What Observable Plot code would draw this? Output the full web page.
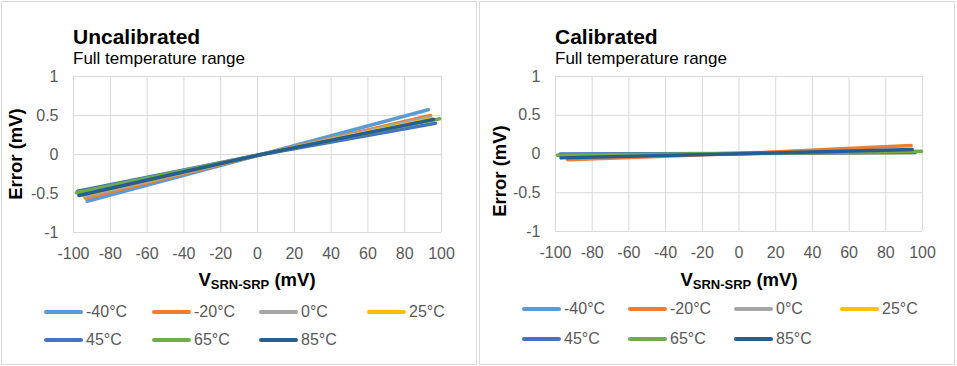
<!DOCTYPE html>
<html>
<head>
<meta charset="utf-8">
<script src="https://cdn.jsdelivr.net/npm/d3@7"></script>
<script src="https://cdn.jsdelivr.net/npm/@observablehq/plot@0.6"></script>
<style>
  html, body { margin: 0; padding: 0; background: #fff; }
  body { width: 957px; height: 366px; position: relative; overflow: hidden;
         font-family: "Liberation Sans", Arial, sans-serif; }
  .abs { position: absolute; }
  .box { position: absolute; border: 1px solid #d9d9d9; box-sizing: border-box; }
  .title { font-weight: bold; font-size: 21px; line-height: 1; color: #000; white-space: nowrap; }
  .sub { font-size: 17px; line-height: 1; color: #000; white-space: nowrap; }
  .ylab { font-weight: bold; font-size: 18.5px; line-height: 1; color: #000; white-space: nowrap;
          transform: translate(-50%, -50%) rotate(-90deg); }
  .xlab { font-weight: bold; font-size: 18.5px; line-height: 1; color: #000; white-space: nowrap;
          transform: translateX(-50%); }
  .xlab .s { font-size: 13px; position: relative; top: 3px; }
  .leg { display: flex; align-items: center; height: 16px; font-size: 16px; line-height: 16px; color: #595959; white-space: nowrap; }
  .sw { width: 39px; height: 3.5px; border-radius: 2px; margin-right: 3px; }
</style>
</head>
<body>
<script>
// ---- Data ----
const temps = ["-40°C", "-20°C", "0°C", "25°C", "45°C", "65°C", "85°C"];
const colors = ["#5B9BD5", "#ED7D31", "#A5A5A5", "#FFC000", "#4472C4", "#70AD47", "#255E91"];

const xTicks = [-100, -80, -60, -40, -20, 0, 20, 40, 60, 80, 100];
const yTicks = [-1, -0.5, 0, 0.5, 1];
const yTickLabels = ["-1", "-0.5", "0", "0.5", "1"];

// Uncalibrated: start, middle (x = 0) and end points of each series
const uncalStartX = [-92.6, -93.5, -94, -95, -97.8, -98.4, -97.1];
const uncalStartY = [-0.60, -0.56, -0.54, -0.52, -0.47, -0.49, -0.525];
const uncalMidY   = [-0.012, -0.012, -0.01, -0.01, -0.01, -0.008, -0.01];
const uncalEndX   = [92.8, 94.0, 94, 95, 96.7, 99.0, 95.7];
const uncalEndY   = [0.573, 0.50, 0.48, 0.46, 0.40, 0.458, 0.45];

// Calibrated
const calStartX = [-97, -93.3, -96, -96, -97.5, -99, -97];
const calStartY = [-0.02, -0.075, -0.02, -0.01, 0.0, -0.015, -0.05];
const calMidY   = [0.005, 0.005, 0.005, 0.003, 0.008, 0.005, 0.004];
const calEndX   = [95, 93.8, 96, 96, 96, 99.5, 94.4];
const calEndY   = [0.03, 0.11, 0.03, 0.02, 0.02, 0.036, 0.058];

function table(sx, sy, my, ex, ey) {
  const rows = [];
  temps.forEach((t, i) => {
    rows.push({temp: t, x: sx[i], y: sy[i]});
    rows.push({temp: t, x: 0, y: my[i]});
    rows.push({temp: t, x: ex[i], y: ey[i]});
  });
  return rows;
}

function add(el, cls, left, top, html) {
  const d = document.createElement("div");
  d.className = "abs " + cls;
  d.style.left = left + "px";
  d.style.top = top + "px";
  d.innerHTML = html;
  document.body.appendChild(d);
  return d;
}

function panel(opts) {
  const {ox, title, data, mL, mR, mT, mB, ylabX, ylabY, xlabX, legX, legY} = opts;
  const box = document.createElement("div");
  box.className = "box";
  Object.assign(box.style, {left: (ox + 1) + "px", top: "1px", width: "476px", height: "364px"});
  document.body.appendChild(box);

  const chart = Plot.plot({
    width: 476, height: 290,
    marginLeft: mL, marginRight: mR, marginTop: mT, marginBottom: mB,
    style: {fontSize: "16px", fontFamily: "'Liberation Sans', Arial, sans-serif", background: "transparent", overflow: "visible"},
    x: {domain: [-100, 100]},
    y: {domain: [-1, 1]},
    color: {domain: temps, range: colors},
    marks: [
      Plot.gridX(xTicks, {stroke: "#d9d9d9", strokeOpacity: 1, strokeWidth: 1}),
      Plot.gridY(yTicks, {stroke: "#d9d9d9", strokeOpacity: 1, strokeWidth: 1}),
      Plot.axisX(xTicks, {tickSize: 0, tickPadding: 15, label: null, fill: "#595959",
                          tickFormat: d => String(d)}),
      Plot.axisY(yTicks, {tickSize: 0, tickPadding: 15, label: null, fill: "#595959",
                          tickFormat: d => yTickLabels[yTicks.indexOf(d)]}),
      Plot.line(data, {x: "x", y: "y", z: "temp", stroke: "temp", strokeWidth: 3.5,
                       strokeLinecap: "round", strokeLinejoin: "round"})
    ]
  });
  chart.style.position = "absolute";
  chart.style.left = ox + "px";
  chart.style.top = "0px";
  document.body.appendChild(chart);

  add(null, "title", ox + mL, 26, title);
  add(null, "sub", ox + mL, 49.6, "Full temperature range");
  add(null, "ylab", ylabX, ylabY, "Error (mV)");
  add(null, "xlab", xlabX, 271, 'V<span class="s">SRN-SRP</span> (mV)');

  temps.forEach((t, i) => {
    const col = i % 4, row = Math.floor(i / 4);
    const d = add(null, "leg", legX[col], legY[row] - 8,
      `<div class="sw" style="background:${colors[i]}"></div>${t}`);
  });
}

panel({ox: 0, title: "Uncalibrated",
       data: table(uncalStartX, uncalStartY, uncalMidY, uncalEndX, uncalEndY),
       mL: 73, mR: 35, mT: 76, mB: 58,
       ylabX: 15.5, ylabY: 154, xlabX: 257,
       legX: [44, 152, 259, 367], legY: [312, 340]});

panel({ox: 478, title: "Calibrated",
       data: table(calStartX, calStartY, calMidY, calEndX, calEndY),
       mL: 77, mR: 32, mT: 76, mB: 59,
       ylabX: 500, ylabY: 171, xlabX: 739,
       legX: [522, 628, 734, 840], legY: [309, 339]});
</script>
</body>
</html>
